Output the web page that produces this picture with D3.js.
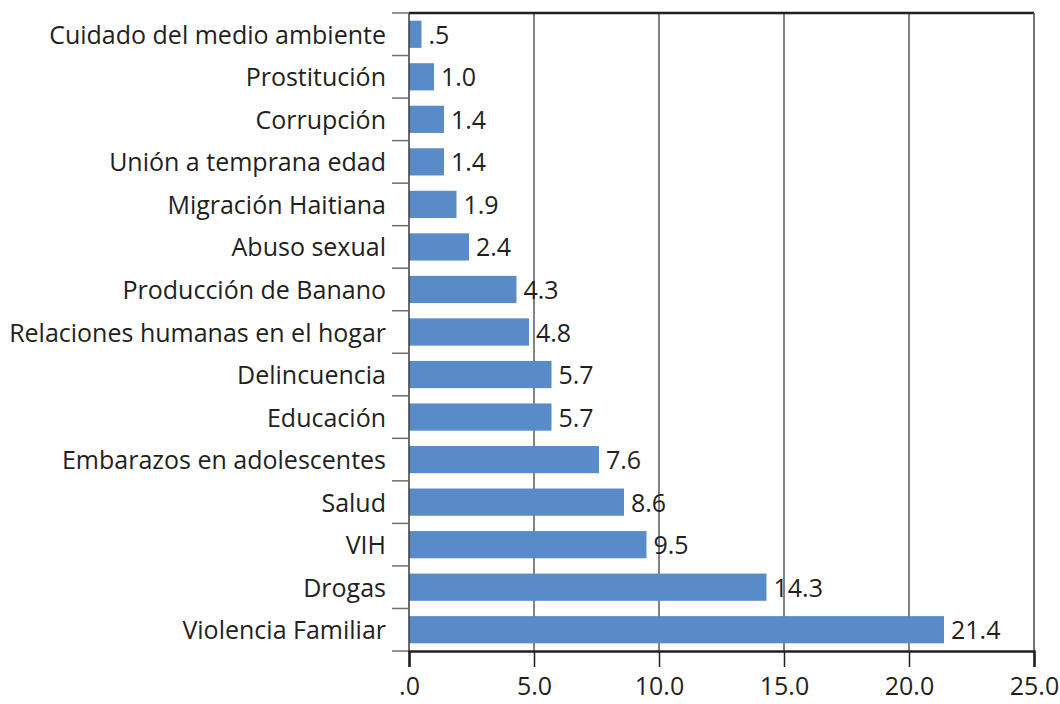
<!DOCTYPE html>
<html>
<head>
<meta charset="utf-8">
<script src="https://cdn.jsdelivr.net/npm/d3@7"></script>
<style>
  html, body { margin: 0; padding: 0; background: #fff; }
  svg text { font-family: "Open Sans", "Lato", sans-serif; fill: #231f20; }
</style>
</head>
<body>
<svg id="chart" width="1060" height="704"></svg>
<script>
// Problemas identificados (%)
const categories = [
  "Cuidado del medio ambiente",
  "Prostitución",
  "Corrupción",
  "Unión a temprana edad",
  "Migración Haitiana",
  "Abuso sexual",
  "Producción de Banano",
  "Relaciones humanas en el hogar",
  "Delincuencia",
  "Educación",
  "Embarazos en adolescentes",
  "Salud",
  "VIH",
  "Drogas",
  "Violencia Familiar"
];
const values = [0.5, 1.0, 1.4, 1.4, 1.9, 2.4, 4.3, 4.8, 5.7, 5.7, 7.6, 8.6, 9.5, 14.3, 21.4];
const xTicks = [0, 5, 10, 15, 20, 25];

const svg = d3.select("#chart");
const margin = { left: 409, right: 1060 - 1034, top: 13, bottom: 704 - 651 };
const W = 1060, H = 704;

const x = d3.scaleLinear().domain([0, 25]).range([margin.left, W - margin.right]);
const y = d3.scaleBand().domain(categories).range([margin.top, H - margin.bottom]).paddingInner(0.36).paddingOuter(0.18);

const fmt = v => (v === 0 ? ".0" : (v < 1 ? d3.format(".1f")(v).replace(/^0/, "") : d3.format(".1f")(v)));

// vertical gridlines
svg.append("g")
  .selectAll("line")
  .data(xTicks.slice(1))
  .join("line")
  .attr("x1", d => x(d)).attr("x2", d => x(d))
  .attr("y1", margin.top).attr("y2", H - margin.bottom)
  .attr("stroke", "#58585a").attr("stroke-width", 1.5);

// bars
svg.append("g")
  .selectAll("rect")
  .data(values)
  .join("rect")
  .attr("x", x(0))
  .attr("y", (d, i) => y(categories[i]))
  .attr("width", d => x(d) - x(0))
  .attr("height", y.bandwidth())
  .attr("fill", "#598bc9");

// value labels
svg.append("g")
  .selectAll("text")
  .data(values)
  .join("text")
  .attr("x", d => x(d) + 7)
  .attr("y", (d, i) => y(categories[i]) + y.bandwidth() / 2)
  .attr("dy", "0.38em")
  .attr("font-size", 25)
  .text(d => fmt(d));

// top border
svg.append("line")
  .attr("x1", x(0)).attr("x2", x(25))
  .attr("y1", margin.top).attr("y2", margin.top)
  .attr("stroke", "#231f20").attr("stroke-width", 2.5);

// y axis with ticks at category boundaries
const yLeft = svg.append("g");
yLeft.append("line")
  .attr("x1", x(0)).attr("x2", x(0))
  .attr("y1", margin.top).attr("y2", H - margin.bottom)
  .attr("stroke", "#3a3a3c").attr("stroke-width", 1.5);
yLeft.selectAll("line.tick")
  .data(d3.range(categories.length + 1))
  .join("line")
  .attr("class", "tick")
  .attr("x1", x(0) - 17).attr("x2", x(0))
  .attr("y1", i => margin.top + i * (H - margin.top - margin.bottom) / categories.length)
  .attr("y2", i => margin.top + i * (H - margin.top - margin.bottom) / categories.length)
  .attr("stroke", "#6d6e70").attr("stroke-width", 1.5);
yLeft.selectAll("text")
  .data(categories)
  .join("text")
  .attr("x", x(0) - 23)
  .attr("y", d => y(d) + y.bandwidth() / 2)
  .attr("dy", "0.38em")
  .attr("text-anchor", "end")
  .attr("font-size", 25)
  .text(d => d);

// right border
svg.append("line")
  .attr("x1", x(25)).attr("x2", x(25))
  .attr("y1", margin.top).attr("y2", H - margin.bottom)
  .attr("stroke", "#6d6e70").attr("stroke-width", 1.5);

// x axis
const xAxis = d3.axisBottom(x).tickValues(xTicks).tickSize(16).tickPadding(10).tickFormat(fmt);
const gx = svg.append("g")
  .attr("transform", `translate(0,${H - margin.bottom})`)
  .call(xAxis);
gx.select(".domain").attr("stroke", "#231f20").attr("stroke-width", 2.5);
gx.selectAll(".tick line").attr("stroke", "#231f20").attr("stroke-width", 1.5);
gx.selectAll(".tick text").attr("font-size", 25).attr("fill", "#231f20")
  .style("font-family", "'Open Sans', Lato, sans-serif");
</script>
</body>
</html>
